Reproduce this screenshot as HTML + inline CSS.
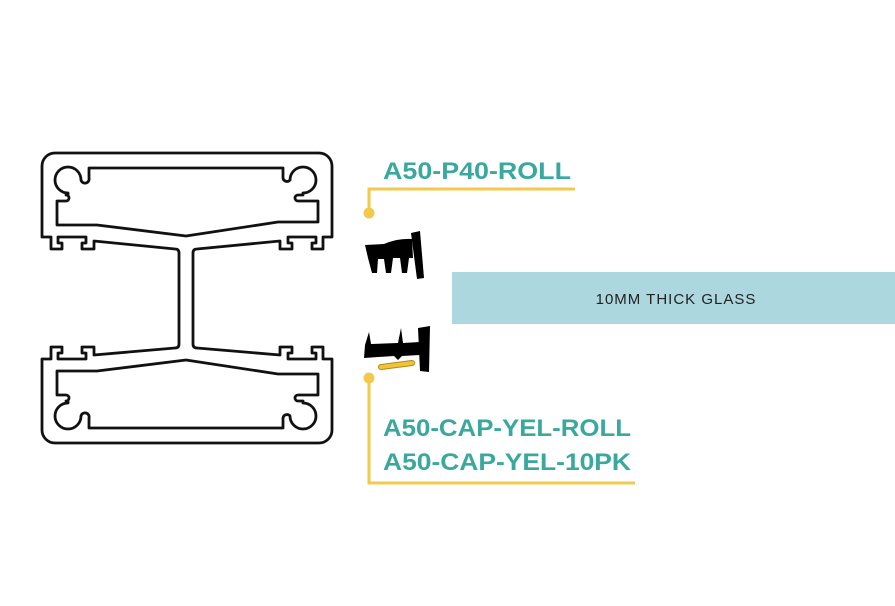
<!DOCTYPE html>
<html><head><meta charset="utf-8"><style>
html,body{margin:0;padding:0;background:#fff;}
svg{display:block;}
</style></head><body>
<svg width="895" height="606" viewBox="0 0 895 606" xmlns="http://www.w3.org/2000/svg">
<rect width="895" height="606" fill="#fff"/>
<g fill="none" stroke="#111" stroke-width="2.8" stroke-linejoin="round">
<path d="M 55,153 H 319 A 13 13 0 0 1 332,166 V 237 H 323 V 249 H 312 V 243 H 316 V 237 H 288 V 243 H 292 V 249 H 280 V 241 L 197,249 Q 193,249 193,253 V 344 Q 193,348 197,348 L 280,355 V 347 H 292 V 353 H 288 V 359 H 316 V 353 H 312 V 347 H 323 V 359 H 332 V 430 A 13 13 0 0 1 319,443 H 55 A 13 13 0 0 1 42,430 V 359 H 51 V 347 H 62 V 353 H 58 V 359 H 86 V 353 H 82 V 347 H 94 V 355 L 175,348 Q 179,348 179,344 V 253 Q 179,249 175,249 L 94,241 V 249 H 82 V 243 H 86 V 237 H 58 V 243 H 62 V 249 H 51 V 237 H 42 V 166 A 13 13 0 0 1 55,153 Z"/>
<path d="M 89,168 H 283 V 178 A 4 4 0 0 0 290,180 A 13 13 0 1 1 303,193 V 195 H 298 A 3 3 0 0 0 298,201 H 318 V 222 H 278 L 186,236 L 97,225 H 57 V 201 H 66 A 3 3 0 0 0 66,195 H 68 V 193 A 13 13 0 1 1 81,180 A 4 4 0 0 0 89,178 Z"/>
<path d="M 89,168 H 283 V 178 A 4 4 0 0 0 290,180 A 13 13 0 1 1 303,193 V 195 H 298 A 3 3 0 0 0 298,201 H 318 V 222 H 278 L 186,236 L 97,225 H 57 V 201 H 66 A 3 3 0 0 0 66,195 H 68 V 193 A 13 13 0 1 1 81,180 A 4 4 0 0 0 89,178 Z" transform="matrix(1,0,0,-1,0,596)"/>
</g>
<g fill="#000">
<polygon points="411,233 420,231 424,278 417,279"/>
<path d="M 365,245 L 384,244 Q 398,238 412,239 L 413,258 L 409,258 L 407,273 L 402,273 L 400,258 L 393,258 L 391,273 L 386,273 L 384,259 L 378,259 L 377,273 L 372,273 L 368,258 Z"/>
<polygon points="418,328 430,326 429,372 420,371"/>
<path d="M 365,345 L 369,332 L 371,344 L 398,343 L 401,328 L 403,343 L 420,342 L 420,355 L 402,356 L 398,360 L 394,356 L 364,358 Z"/>
</g>
<line x1="381" y1="367" x2="412" y2="363" stroke="#b08a10" stroke-width="6" stroke-linecap="round"/>
<line x1="381" y1="367" x2="412" y2="363" stroke="#f0c43a" stroke-width="4" stroke-linecap="round"/>
<rect x="452" y="272" width="443" height="52" fill="#acd7de"/>
<text x="676" y="304" text-anchor="middle" font-family="Liberation Sans, sans-serif" font-size="15" letter-spacing="1" fill="#222">10MM THICK GLASS</text>
<g stroke="#f2c94c" stroke-width="3" fill="none">
<polyline points="369,213 369,189 575,189"/>
<polyline points="369,378 369,483 635,483"/>
</g>
<circle cx="369" cy="213" r="5.5" fill="#f2c94c"/>
<circle cx="369" cy="378" r="5.5" fill="#f2c94c"/>
<g font-family="Liberation Sans, sans-serif" font-weight="bold" font-size="24" fill="#3aa89e">
<text x="383" y="179" textLength="188" lengthAdjust="spacingAndGlyphs">A50-P40-ROLL</text>
<text x="383" y="436" textLength="248" lengthAdjust="spacingAndGlyphs">A50-CAP-YEL-ROLL</text>
<text x="383" y="470" textLength="248" lengthAdjust="spacingAndGlyphs">A50-CAP-YEL-10PK</text>
</g>
</svg>
</body></html>
